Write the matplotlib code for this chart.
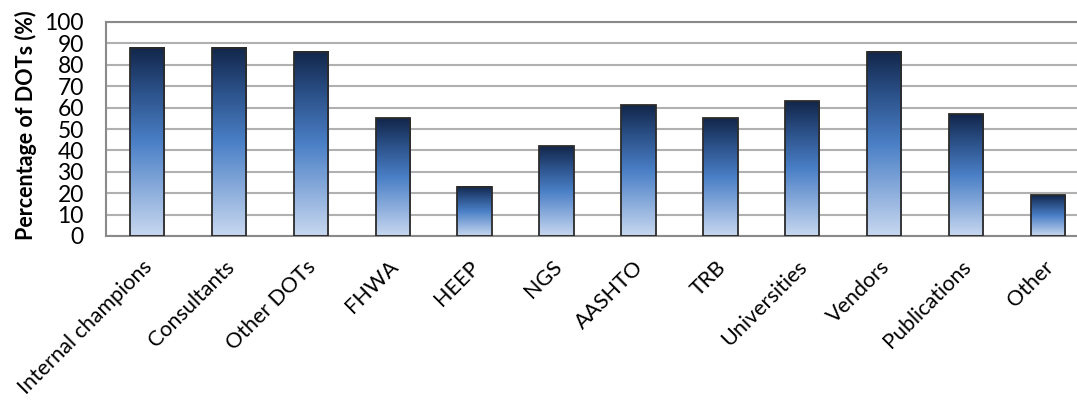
import matplotlib
matplotlib.use('Agg')
import matplotlib.pyplot as plt
import matplotlib.transforms as mtransforms
from matplotlib.colors import LinearSegmentedColormap
import numpy as np

categories = ['Internal champions', 'Consultants', 'Other DOTs', 'FHWA', 'HEEP', 'NGS',
              'AASHTO', 'TRB', 'Universities', 'Vendors', 'Publications', 'Other']
values = [88, 88, 86, 55, 23, 42, 61, 55, 63, 86, 57, 19]

plt.rcParams['font.family'] = ['Lato', 'DejaVu Sans']

fig = plt.figure(figsize=(10.77, 4.0), dpi=100)
# plot area runs slightly past the right edge of the picture, as in the original
ax = fig.add_axes([106 / 1077, 164 / 400, 983 / 1077, 214 / 400])

# blue gradient, light at the bottom, dark navy at the top
cmap = LinearSegmentedColormap.from_list(
    'bar_grad', [(0.0, '#c8d8f0'), (0.5, '#4a7fc6'), (0.78, '#2a4f86'), (1.0, '#12264a')])
grad = np.linspace(0, 1, 256).reshape(-1, 1)

x = np.arange(len(categories))
width = 0.42
bars = ax.bar(x, values, width=width, color='none', edgecolor='#2b2b2b', linewidth=1.3, zorder=3)
for b in bars:
    x0, y0 = b.get_x(), b.get_y()
    w, h = b.get_width(), b.get_height()
    ax.imshow(grad, extent=[x0, x0 + w, y0, y0 + h], origin='lower', aspect='auto',
              cmap=cmap, zorder=2)

ax.set_xlim(-0.5, len(categories) - 0.5)
ax.set_ylim(0, 100)
ax.set_yticks(np.arange(0, 101, 10))
ax.yaxis.grid(True, color='#b0b0b0', linewidth=1.5, zorder=0)
ax.set_axisbelow(True)
ax.tick_params(axis='y', length=0, labelsize=16.5, pad=16)
ax.tick_params(axis='x', length=0, labelsize=15.5, pad=15)
ax.set_xticks(x)
ax.set_xticklabels(categories, rotation=45, ha='right', rotation_mode='anchor')
shift = mtransforms.ScaledTranslation(-5 / 100, 0, fig.dpi_scale_trans)
for lbl in ax.get_xticklabels():
    lbl.set_transform(lbl.get_transform() + shift)

ax.set_ylabel('Percentage of DOTs (%)', fontsize=15.5, fontweight='bold')
ax.yaxis.set_label_coords(-69 / 983, 0.52)

ax.spines['right'].set_visible(False)
for side in ['left', 'bottom', 'top']:
    ax.spines[side].set_color('#8a8a8a')
    ax.spines[side].set_linewidth(1.5)

fig.savefig('out.png', dpi=100, facecolor='white')
